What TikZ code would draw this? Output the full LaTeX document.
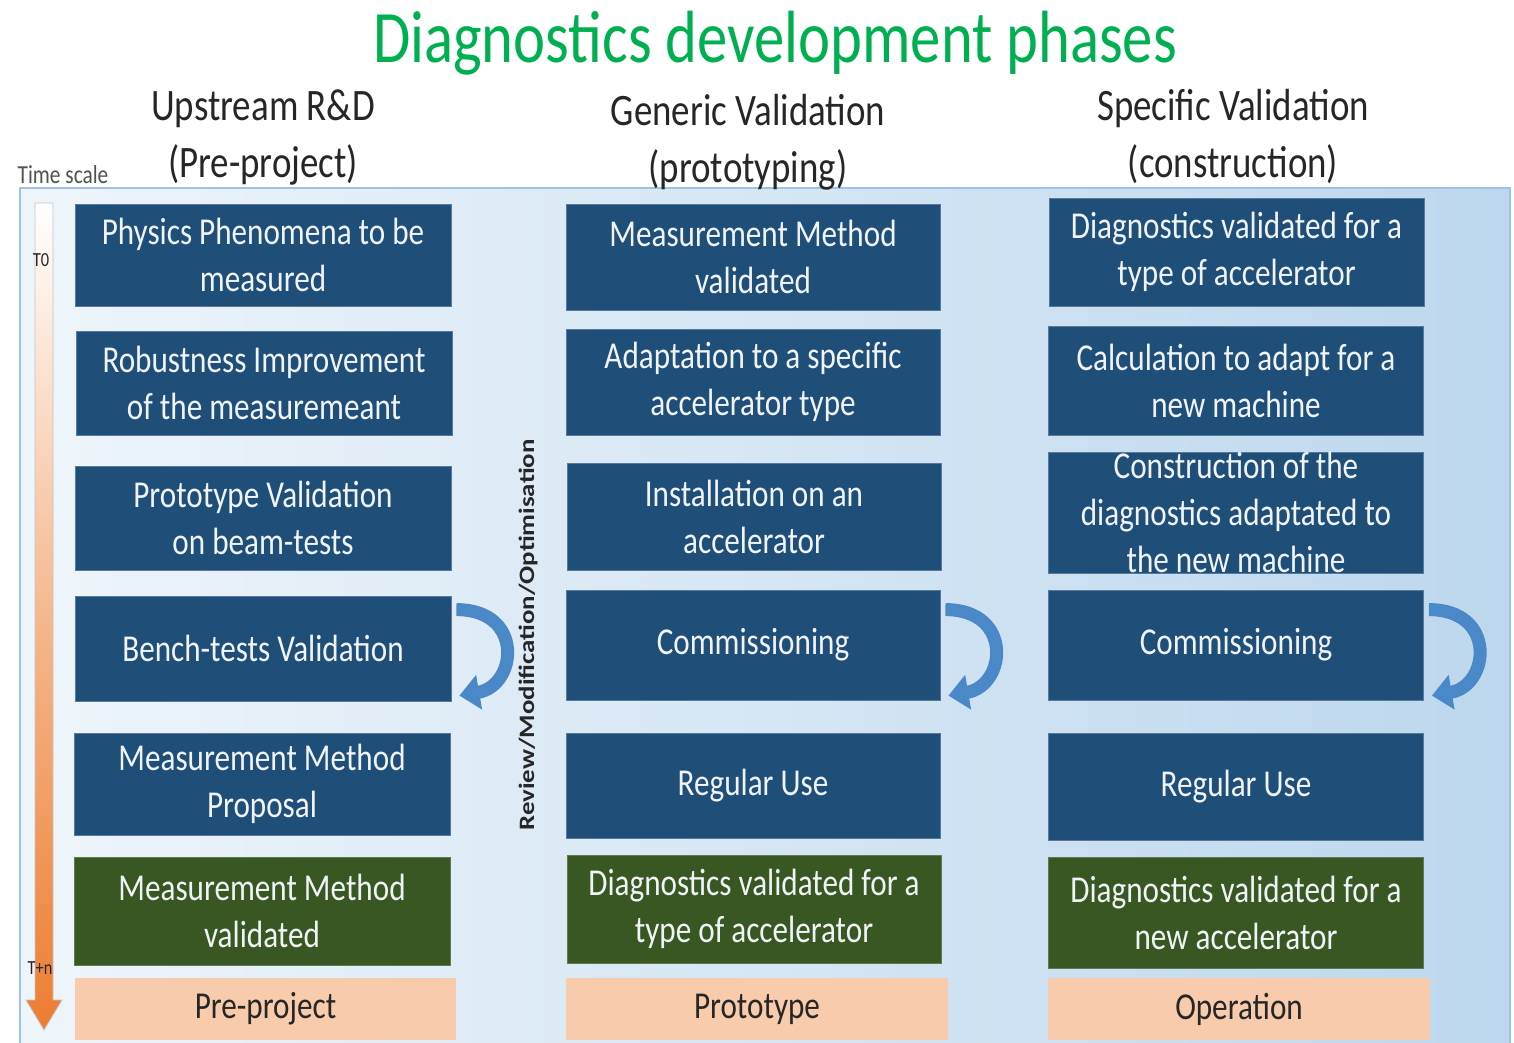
\documentclass[tikz,border=0pt]{standalone}
\usepackage{fontspec}
\setmainfont{Carlito}[FakeStretch=0.82]
\newfontfamily\sidefont{Carlito}[FakeStretch=1.22]
\usetikzlibrary{positioning,calc,arrows.meta}
\definecolor{boxblue}{HTML}{1F4E79}
\definecolor{boxgreen}{HTML}{385723}
\definecolor{peach}{HTML}{F8CBAD}
\definecolor{titlegreen}{HTML}{00B050}
\definecolor{panelblue}{HTML}{BDD7EE}
\definecolor{panelline}{HTML}{9DC3E6}
\definecolor{loopblue}{HTML}{4A88C8}
\definecolor{timeorange}{HTML}{ED7D31}
\definecolor{headgray}{HTML}{262626}

\begin{document}
\begin{tikzpicture}[x = 1pt, y = -1pt,
    every node/.style = { align = center, inner sep = 0pt },
    boxsize/.style 2 args = { minimum width = #1, minimum height = #2 },
    phase/.style = { fill = boxblue, draw = boxblue!75!white, line width = .8pt,
                     text = white!94!boxblue, font = \fontsize{38}{47}\selectfont },
    done/.style = { phase, fill = boxgreen, draw = boxgreen!80!white },
    phasebox/.style = { fill = peach, text = headgray, font = \fontsize{38}{47}\selectfont },
    colhead/.style = { text = headgray, font = \fontsize{45}{57}\selectfont },
    turnarrow/.style = { loopblue, line width = 13pt, -{Triangle[width = 34pt, length = 20pt]} }
  ]
    \useasboundingbox (0,0) rectangle (1514,1042);

    % background panel and time scale
    \shade[left color = panelblue!25!white, right color = panelblue, draw = panelline, line width = 2pt]
      (20,188) rectangle (1510,1050);
    \shade[top color = white, bottom color = timeorange, middle color = timeorange!55!white,
           draw = gray!45, line width = .8pt]
      (35,203) -- (53,203) -- (53,1000) -- (62,1000) -- (44,1030) -- (26,1000) -- (35,1000) -- cycle;
    \node [text = headgray!80, font = \fontsize{26}{30}\selectfont] (tscale) at (63,175) {Time scale};
    \node [text = headgray, font = \fontsize{20}{24}\selectfont] (tzero) at (41,260) {T0};
    \node [text = headgray, font = \fontsize{20}{24}\selectfont] (tn) at (40,968) {T+n};

    % title and column heads
    \node [text = titlegreen, font = \fontsize{74}{80}\selectfont] (title) at (775,43) {Diagnostics development phases};
    \node [colhead] (head1) at (263,137) {Upstream R\&D\\(Pre-project)};
    \node [colhead] (head2) at (748,142) {Generic Validation\\(prototyping)};
    \node [colhead] (head3) at (1233,136) {Specific Validation\\(construction)};

    % upstream R&D
    \node [phase, boxsize = {376}{102}] (c1r1) at (263,255) {Physics Phenomena to be\\measured};
    \node [phase, boxsize = {376}{104}] (c1r2) at (264,383) {Robustness Improvement\\of the measuremeant};
    \node [phase, boxsize = {376}{104}] (c1r3) at (263,518) {Prototype Validation\\on beam-tests};
    \node [phase, boxsize = {376}{105}] (c1r4) at (263,648.5) {Bench-tests Validation};
    \node [phase, boxsize = {376}{102}] (c1r5) at (262,784) {Measurement Method\\Proposal};
    \node [done, boxsize = {376}{108}] (c1r6) at (262,911) {Measurement Method\\validated};
    \node [phasebox, boxsize = {381}{62}] (c1r7) at (265.5,1009) {Pre-project};

    % generic validation
    \node [phase, boxsize = {374}{106}] (c2r1) at (753,257) {Measurement Method\\validated};
    \node [phase, boxsize = {374}{106}] (c2r2) at (753,382) {Adaptation to a specific\\accelerator type};
    \node [phase, boxsize = {374}{107}] (c2r3) at (754,516.5) {Installation on an\\accelerator};
    \node [phase, boxsize = {374}{110}] (c2r4) at (753,645) {Commissioning};
    \node [phase, boxsize = {374}{105}] (c2r5) at (753,785.5) {Regular Use};
    \node [done, boxsize = {374}{108}] (c2r6) at (754,909) {Diagnostics validated for a\\type of accelerator};
    \node [phasebox, boxsize = {382}{62}] (c2r7) at (757,1009) {Prototype};

    % specific validation
    \node [phase, boxsize = {375}{108}] (c3r1) at (1236.5,252) {Diagnostics validated for a\\type of accelerator};
    \node [phase, boxsize = {375}{109}] (c3r2) at (1236,380.5) {Calculation to adapt for a\\new machine};
    \node [phase, boxsize = {375}{121}] (c3r3) at (1236,512.5) {Construction of the\\diagnostics adaptated to\\the new machine};
    \node [phase, boxsize = {375}{110}] (c3r4) at (1236,645) {Commissioning};
    \node [phase, boxsize = {375}{107}] (c3r5) at (1236,786.5) {Regular Use};
    \node [done, boxsize = {375}{111}] (c3r6) at (1236,912.5) {Diagnostics validated for a\\new accelerator};
    \node [phasebox, boxsize = {382}{62}] (c3r7) at (1239,1009) {Operation};

    \node [rotate = 90, text = headgray, font = \sidefont\bfseries\fontsize{22}{26}\selectfont] (review) at (528,635)
      {Review/Modification/Optimisation};

    % review loops
    \draw [turnarrow] ($(c1r4.north east)+(5,14)$) .. controls +(68,0) and +(58,-10) .. ($(c1r4.north east)+(8,100)$);
    \draw [turnarrow] ($(c2r4.north east)+(5,20)$) .. controls +(68,0) and +(58,-10) .. ($(c2r4.north east)+(8,106)$);
    \draw [turnarrow] ($(c3r4.north east)+(5,20)$) .. controls +(68,0) and +(58,-10) .. ($(c3r4.north east)+(8,106)$);
\end{tikzpicture}
\end{document}
